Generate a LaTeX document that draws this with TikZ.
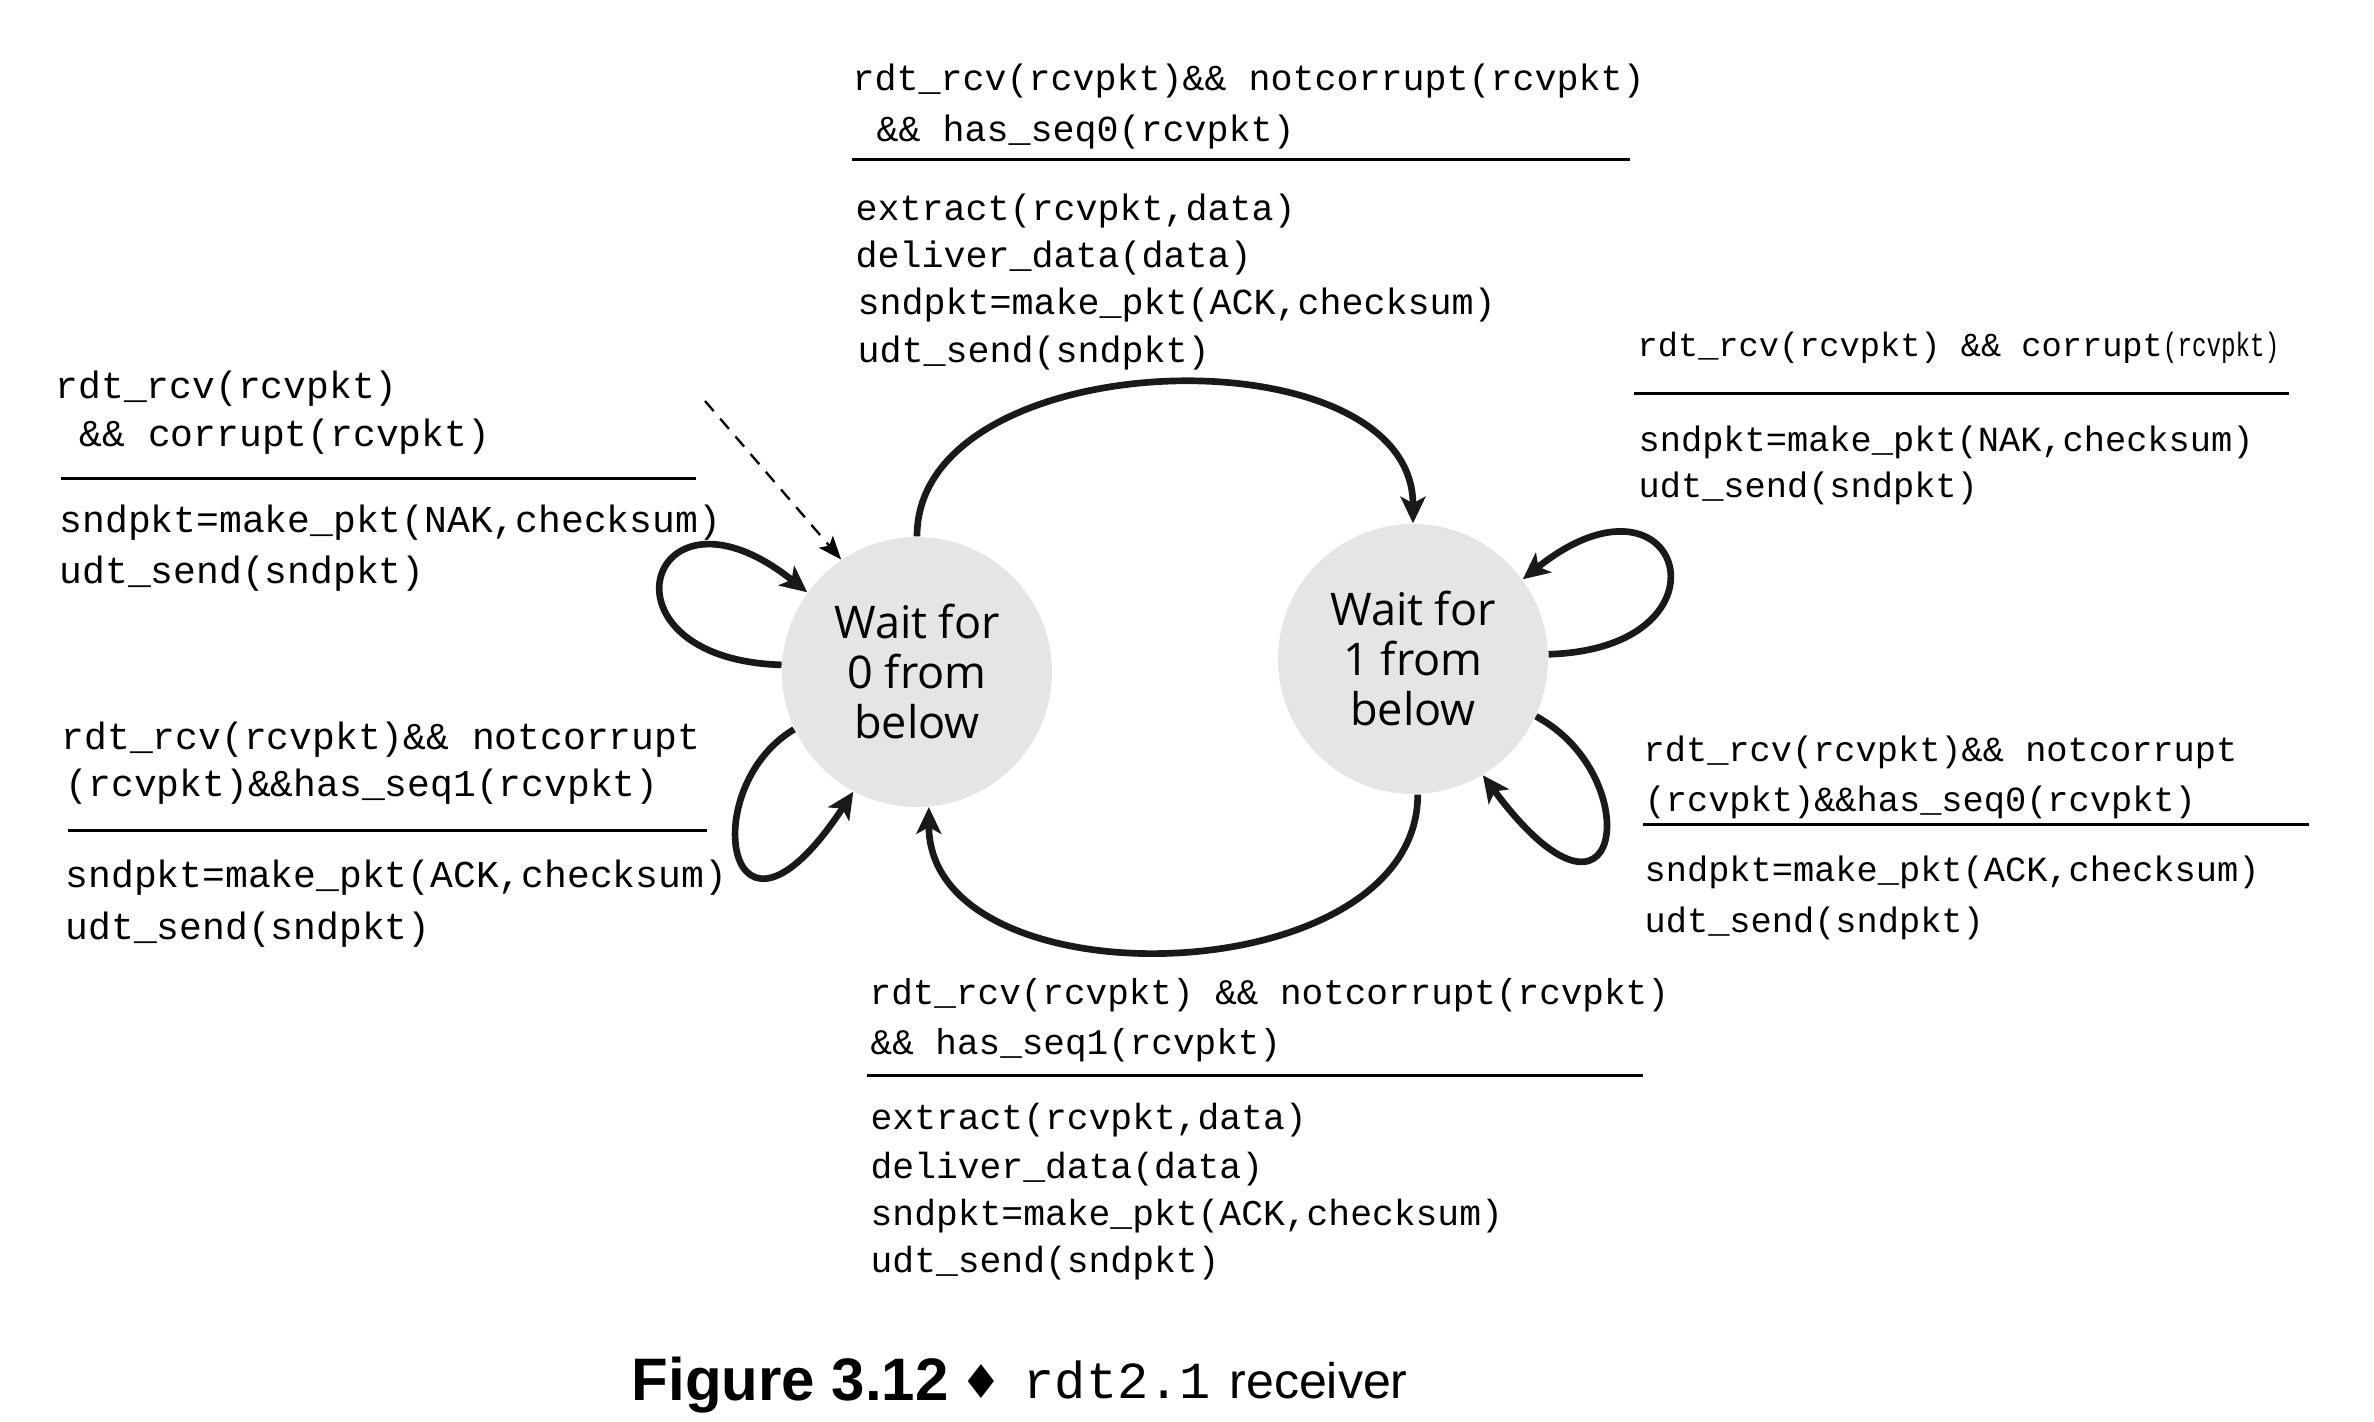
\documentclass[tikz,border=0pt]{standalone}
\usepackage{graphicx}
\usepackage{fontspec}
\setmainfont{Open Sans}
\newfontfamily\codefont{Liberation Mono}
\newfontfamily\capfont{Liberation Sans}
\newfontfamily\symfont{DejaVu Sans}
\usetikzlibrary{arrows.meta}
\begin{document}
\begin{tikzpicture}[x=0.3pt,y=-0.3pt,
  code/.style={anchor=base west, inner sep=0pt, font=\fontsize{#1}{14}\codefont},
  code/.default=11,
  state/.style={circle, fill=gray!20, minimum size=81pt, inner sep=0pt, align=center, font=\fontsize{13.5}{15}\selectfont},
  trans/.style={line width=2pt, draw=black!90, -{Stealth[length=8pt,width=7.5pt,inset=2pt]}},
  guard/.style={line width=0.9pt},
  initarrow/.style={line width=0.7pt, dash pattern=on 4pt off 3pt, -{Stealth[length=7pt,width=5.5pt,inset=1.5pt]}}
  ]
\path[use as bounding box] (0,0) rectangle (2374,1422);

% states
\node[state] (s0) at (917,672) {Wait for\\0 from\\below};
\node[state] (s1) at (1413,659) {Wait for\\1 from\\below};

% initial arrow
\coordinate (init) at (705,401);
\draw[initarrow] (init) -- (s0.124);

% transitions between states
\draw[trans] (s0.north) .. controls +(0,-195) and +(0,-195) .. (s1.north);
\draw[trans] (s1.272) .. controls +(0,200) and +(0,200) .. (s0.275);

% self loops of state 0
\draw[trans] (s0.177) .. controls +(-193,-6) and +(-159,-127) .. (s0.144);
\draw[trans] (s0.205) .. controls +(-100,60) and +(-125,190) .. (s0.242);

% self loops of state 1
\draw[trans] (s1.2) .. controls +(193,-6) and +(159,-127) .. (s1.36);
\draw[trans] (s1.335) .. controls +(112,60) and +(140,188) .. (s1.301);

% top block (0 -> 1)
\node[code] (t1) at (852,91) {rdt\_rcv(rcvpkt)\&\& notcorrupt(rcvpkt)};
\node[code] (t2) at (876,142) {\&\& has\_seq0(rcvpkt)};
\draw[guard] (852,160) -- (1630,160);
\node[code] (t3) at (855,221) {extract(rcvpkt,data)};
\node[code] (t4) at (855,268) {deliver\_data(data)};
\node[code] (t5) at (857,315) {sndpkt=make\_pkt(ACK,checksum)};
\node[code] (t6) at (857,362) {udt\_send(sndpkt)};

% left upper block
\node[code=11.4] (l1) at (55,398) {rdt\_rcv(rcvpkt)};
\node[code=11.4] (l2) at (79,447) {\&\& corrupt(rcvpkt)};
\draw[guard] (61,478) -- (696,478);
\node[code=11.4] (l3) at (59,533) {sndpkt=make\_pkt(NAK,checksum)};
\node[code=11.4] (l4) at (59,584) {udt\_send(sndpkt)};

% left lower block
\node[code=11.4] (l5) at (61,749) {rdt\_rcv(rcvpkt)\&\& notcorrupt};
\node[code=11.4] (l6) at (65,796) {(rcvpkt)\&\&has\_seq1(rcvpkt)};
\draw[guard] (68,830) -- (707,830);
\node[code=11.4] (l7) at (65,887) {sndpkt=make\_pkt(ACK,checksum)};
\node[code=11.4] (l8) at (65,939) {udt\_send(sndpkt)};

% right upper block
\node[code=10.1] (r1) at (1637,357) {rdt\_rcv(rcvpkt) \&\& corrupt\scalebox{0.72}[1]{(rcvpkt)}};
\draw[guard] (1634,394) -- (2289,394);
\node[code=10.6] (r2) at (1638,451) {sndpkt=make\_pkt(NAK,checksum)};
\node[code=10.6] (r3) at (1638,498) {udt\_send(sndpkt)};

% right lower block
\node[code=10.6] (r4) at (1643,761) {rdt\_rcv(rcvpkt)\&\& notcorrupt};
\node[code=10.6] (r5) at (1644,811) {(rcvpkt)\&\&has\_seq0(rcvpkt)};
\draw[guard] (1643,824) -- (2309,824);
\node[code=10.6] (r6) at (1644,881) {sndpkt=make\_pkt(ACK,checksum)};
\node[code=10.6] (r7) at (1644,932) {udt\_send(sndpkt)};

% bottom block (1 -> 0)
\node[code=10.8] (b1) at (869,1004) {rdt\_rcv(rcvpkt) \&\& notcorrupt(rcvpkt)};
\node[code=10.8] (b2) at (870,1054) {\&\& has\_seq1(rcvpkt)};
\draw[guard] (867,1075) -- (1643,1075);
\node[code=10.9] (b3) at (870,1129) {extract(rcvpkt,data)};
\node[code=10.9] (b4) at (870,1178) {deliver\_data(data)};
\node[code=10.9] (b5) at (870,1225) {sndpkt=make\_pkt(ACK,checksum)};
\node[code=10.9] (b6) at (870,1272) {udt\_send(sndpkt)};

% caption
\node[anchor=base west, inner sep=0pt, font=\fontsize{18}{20}\capfont\bfseries] (cap1) at (631,1400) {Figure 3.12};
\node[anchor=base, inner sep=0pt, font=\fontsize{14}{16}\symfont] (cap2) at (981,1398) {♦};
\node[anchor=base west, inner sep=0pt, font=\fontsize{15.6}{18}\codefont] (cap3) at (1023,1398) {rdt2.1};
\node[anchor=base west, inner sep=0pt, font=\fontsize{15}{18}\capfont] (cap4) at (1229,1398) {receiver};
\end{tikzpicture}
\end{document}
